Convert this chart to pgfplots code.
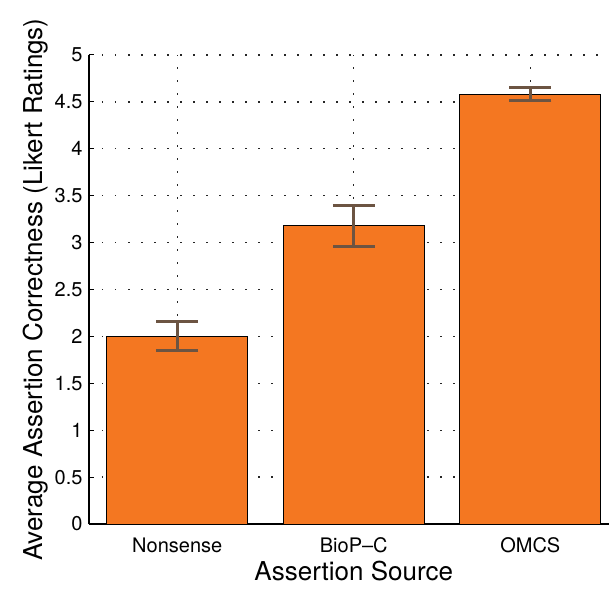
\documentclass[border=0pt]{standalone}
\usepackage{pgfplots}
\pgfplotsset{compat=1.18}
\usepackage{fontspec}
\setmainfont{TeX Gyre Heros}
\definecolor{barorange}{RGB}{244,119,33}
\definecolor{errbrown}{RGB}{108,84,66}
\begin{document}
\begin{tikzpicture}
\begin{axis}[
  scale only axis, width=520pt, height=469pt,
  xmin=0.5, xmax=3.446, ymin=0, ymax=5,
  axis x line*=bottom, axis y line*=left,
  axis line style={line width=1.2pt, black},
  xtick={1,2,3}, xticklabels={Nonsense,BioP--C,OMCS},
  ytick={0,0.5,1,1.5,2,2.5,3,3.5,4,4.5,5},
  grid=major, grid style={black!85, line width=1.3pt, dash pattern=on 1.5pt off 11.5pt},
  tick align=inside, major tick length=5pt,
  tick style={black, line width=1pt},
  ticklabel style={font=\fontsize{20}{23}\selectfont},
  /pgf/number format/assume math mode=true,
  xticklabel style={yshift=-10pt},
  yticklabel style={xshift=-3pt},
  xlabel={Assertion Source},
  ylabel={Average Assertion Correctness (Likert Ratings)},
  label style={font=\fontsize{26}{30}\selectfont},
  xlabel style={at={(axis cs:2,0)}, anchor=north, inner sep=0pt, yshift=-37pt},
  ylabel style={at={(axis description cs:-0.072,0.5)}, anchor=south},
]
\addplot[ybar, bar width=0.8, fill=barorange, draw=black, line width=0.8pt,
  error bars/.cd, y dir=both, y explicit,
  error bar style={line width=3pt, errbrown},
  error mark options={rotate=90, mark size=21pt, line width=3pt, errbrown}]
  coordinates {(1,2.00) +- (0,0.155) (2,3.18) +- (0,0.22) (3,4.58) +- (0,0.07)};
\end{axis}
\pgfresetboundingbox
\useasboundingbox ([xshift=-89pt,yshift=-64pt]current axis.south west) rectangle ([xshift=520pt,yshift=524pt]current axis.south west);
\end{tikzpicture}
\end{document}
